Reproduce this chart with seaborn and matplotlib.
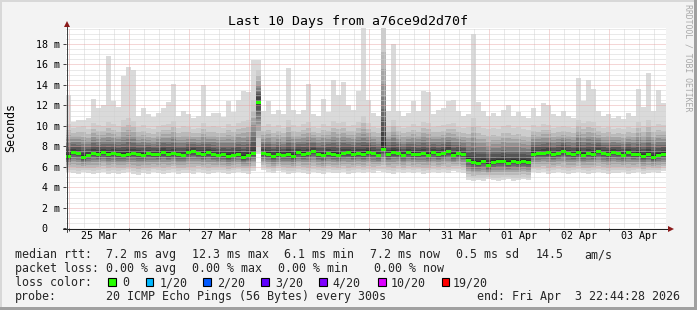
import numpy as np
import pandas as pd
import matplotlib
matplotlib.use("Agg")
import matplotlib.pyplot as plt
import matplotlib.dates as mdates
from matplotlib.ticker import MultipleLocator, FuncFormatter, NullFormatter
from matplotlib.patches import Rectangle
from matplotlib.lines import Line2D
from matplotlib.path import Path
import seaborn as sns
from datetime import datetime, timedelta

# ---------------- data ----------------
TITLE = "Last 10 Days from a76ce9d2d70f"
START = datetime(2026, 3, 24, 22, 44, 28)
BIN_HOURS = 2

# median rtt per 2h bin (ms)
med = [7.0, 7.4, 7.3, 6.9, 7.1, 7.3, 7.2, 7.4, 7.2, 7.3,
       7.2, 7.1, 7.2, 7.3, 7.2, 7.1, 7.3, 7.2, 7.2, 7.4,
       7.2, 7.3, 7.2, 7.1, 7.4, 7.5, 7.3, 7.2, 7.4, 7.2,
       7.1, 7.2, 7.0, 7.1, 7.2, 6.9, 7.1, 7.3, 12.3, 7.3,
       7.2, 7.0, 7.2, 7.1, 7.2, 7.0, 7.4, 7.2, 7.3, 7.5,
       7.2, 7.1, 7.3, 7.2, 7.1, 7.3, 7.4, 7.2, 7.3, 7.2,
       7.4, 7.3, 7.1, 7.7, 7.2, 7.4, 7.3, 7.1, 7.4, 7.2,
       7.2, 7.3, 7.1, 7.4, 7.2, 7.3, 7.5, 7.1, 7.3, 7.2,
       6.6, 6.4, 6.35, 6.5, 6.1, 6.4, 6.5, 6.5, 6.3, 6.5, 6.4, 6.5, 6.4,
       7.2, 7.3, 7.3, 7.4, 7.2, 7.3, 7.5,
       7.3, 7.2, 7.4, 7.1, 7.3, 7.2, 7.5, 7.3, 7.2, 7.4,
       7.3, 7.1, 7.4, 7.2, 7.2, 7.0, 7.2, 6.9, 7.1, 7.2]

# lowest ping per bin (ms)
lo = [5.5, 5.4, 5.3, 5.5, 5.4, 5.3, 5.4, 5.5, 5.3, 5.4,
      5.3, 5.4, 5.5, 5.3, 5.2, 5.4, 5.3, 5.5, 5.4, 5.3,
      5.4, 5.5, 5.3, 5.4, 5.4, 5.3, 5.5, 5.4, 5.3, 5.4,
      5.5, 5.4, 5.3, 5.4, 5.5, 5.4, 5.3, 5.6, 7.3, 5.7,
      5.5, 5.4, 5.6, 5.5, 5.3, 5.4, 5.5, 5.4, 5.3, 5.5,
      5.4, 5.3, 5.5, 5.4, 5.4, 5.5, 5.3, 5.4, 5.5, 5.4,
      5.5, 5.4, 5.6, 5.5, 5.4, 5.3, 5.5, 5.4, 5.5, 5.4,
      5.5, 5.3, 5.4, 5.5, 5.4, 5.5, 5.4, 5.6, 5.5, 5.4,
      4.7, 4.6, 4.7, 4.6, 4.8, 4.7, 4.6, 4.7, 4.8, 4.6, 4.7, 4.8, 4.7,
      5.5, 5.4, 5.5, 5.3, 5.4, 5.5, 5.4,
      5.3, 5.4, 5.5, 5.4, 5.3, 5.4, 5.5, 5.4, 5.3, 5.4,
      5.4, 5.5, 5.3, 5.4, 5.5, 5.3, 5.4, 5.5, 5.4, 5.6]

# upper edge of the dense smoke (second highest ping) per bin (ms)
up = [10.2, 9.8, 9.9, 10.0, 9.7, 10.3, 10.1, 10.0, 10.4, 10.2,
      10.0, 10.6, 10.8, 10.5, 9.9, 10.1, 9.8, 9.7, 10.0, 10.1,
      10.2, 10.5, 9.8, 10.0, 9.9, 9.7, 9.8, 10.3, 9.9, 10.0,
      9.9, 9.8, 10.2, 10.0, 10.3, 10.5, 10.6, 12.5, 15.5, 10.0,
      10.2, 9.9, 10.1, 9.8, 10.6, 10.1, 9.9, 10.2, 10.4, 9.9,
      9.8, 10.2, 10.0, 10.5, 10.3, 10.4, 10.0, 10.1, 10.4, 11.0,
      10.3, 9.9, 9.8, 19.6, 10.0, 10.6, 10.0, 9.8, 9.9, 10.2,
      10.0, 10.4, 10.3, 9.9, 10.0, 10.1, 10.2, 10.3, 9.9, 9.8,
      9.9, 10.8, 10.0, 9.8, 9.7, 9.8, 9.7, 10.0, 10.1, 9.8, 9.9, 9.7, 9.6,
      10.1, 9.9, 10.2, 10.1, 9.8, 9.9, 10.0,
      9.9, 9.8, 10.6, 10.3, 10.5, 10.4, 10.0, 9.8, 9.9, 9.7,
      9.8, 9.7, 9.9, 9.8, 10.4, 10.0, 10.6, 10.0, 10.2, 10.1]

# highest ping per bin (ms)
hi = [13.0, 10.4, 10.6, 10.6, 10.8, 12.6, 11.7, 12.0, 16.8, 12.4,
      11.8, 14.9, 15.8, 15.5, 11.0, 11.7, 11.2, 10.9, 11.3, 11.7,
      12.3, 14.1, 11.0, 11.5, 11.2, 10.8, 11.0, 14.0, 11.0, 11.3,
      11.3, 10.9, 12.4, 11.4, 12.5, 13.4, 13.3, 16.4, 16.4, 11.5,
      12.4, 11.2, 11.6, 11.2, 15.7, 11.6, 11.2, 11.6, 14.1, 11.2,
      11.0, 12.6, 11.4, 14.5, 13.0, 14.3, 12.0, 11.6, 13.4, 19.6,
      12.5, 11.3, 11.0, 19.6, 11.5, 18.0, 11.5, 11.0, 11.3, 12.4,
      11.5, 13.4, 13.3, 11.2, 11.6, 11.7, 12.4, 12.5, 11.5, 11.0,
      11.2, 19.0, 12.3, 11.5, 11.0, 11.3, 11.0, 11.6, 12.0, 11.0, 11.4, 11.0, 10.8,
      11.7, 11.0, 12.2, 12.0, 11.2, 11.0, 11.5,
      11.0, 10.8, 14.7, 12.4, 14.5, 13.6, 11.5, 11.0, 11.2, 10.8,
      11.0, 10.7, 11.3, 11.0, 13.6, 11.8, 15.2, 11.5, 13.5, 12.2]

YLABEL = "Seconds"
WATERMARK = "RRDTOOL / TOBI OETIKER"

legend_line1 = [("median rtt:", 16), ("7.2 ms avg", 107), ("12.3 ms max", 193),
                ("6.1 ms min", 285), ("7.2 ms now", 371), ("0.5 ms sd", 457),
                ("14.5", 536), ("am/s", 585)]
legend_line2 = [("packet loss:", 16), ("0.00 % avg", 107), ("0.00 % max", 193),
                ("0.00 % min", 279), ("0.00 % now", 375)]
loss_labels = ["0", "1/20", "2/20", "3/20", "4/20", "10/20", "19/20"]
loss_colors = ["#26ff00", "#00b8ff", "#0059ff", "#5e00ff", "#7e00ff", "#dd00ff", "#ff0000"]
probe_text = "20 ICMP Echo Pings (56 Bytes) every 300s"
end_text = "end: Fri Apr  3 22:44:28 2026"

# ---------------- style ----------------
sns.set_theme(style="white")
plt.rcParams['font.family'] = ['DejaVu Sans Mono', 'DejaVu Sans']

W, H = 697, 310
BG = "#f3f3f3"
fig = plt.figure(figsize=(W / 100, H / 100), dpi=100, facecolor=BG)


def fx(px):
    return px / W


def fy(py):
    return 1 - py / H


X0, X1 = 66, 666
Y0, Y1 = 228.3, 28.0
YMAX = 19.56
ax = fig.add_axes([fx(X0), fy(Y0), (X1 - X0) / W, (Y0 - Y1) / H])
ax.set_facecolor("white")

med_a = np.array(med)
lo_a = np.array(lo)
up_a = np.array(up)
hi_a = np.array(hi)
n = len(med_a)
edges = mdates.date2num([START + timedelta(hours=BIN_HOURS * i) for i in range(n + 1)])
centers = (edges[:-1] + edges[1:]) / 2


def ext(a):
    return np.append(a, a[-1])


# smoke: outermost layer (min..max ping), then darker inner layers
ax.fill_between(edges, ext(lo_a), ext(hi_a), step="post", color="#dadada", lw=0, zorder=1)
LOWF = [0.15, 0.30, 0.45, 0.57, 0.68, 0.78, 0.86, 0.92, 0.97]
UPF = [1.0, 0.80, 0.66, 0.54, 0.43, 0.33, 0.24, 0.15, 0.07]
GRAYS = [205, 185, 165, 145, 125, 105, 85, 67, 50]
for k, (fa, fb, g) in enumerate(zip(LOWF, UPF, GRAYS)):
    lower = lo_a + (med_a - lo_a) * fa
    upper = med_a + (up_a - med_a) * fb
    ax.fill_between(edges, ext(lower), ext(upper), step="post",
                    color=(g / 255, g / 255, g / 255), lw=0, zorder=1.1 + 0.01 * k)

# median as short loss-coloured bars
rect = Path([(-0.5, -0.3), (0.5, -0.3), (0.5, 0.3), (-0.5, 0.3), (-0.5, -0.3)],
            [Path.MOVETO, Path.LINETO, Path.LINETO, Path.LINETO, Path.CLOSEPOLY])
df = pd.DataFrame({"t": centers, "median": med_a})
sns.scatterplot(data=df, x="t", y="median", marker=rect, s=13, color=loss_colors[0],
                linewidth=0, edgecolor="none", ax=ax, zorder=4, legend=False)

ax.set_xlim(edges[0], edges[-1])
ax.set_ylim(0, YMAX)
ax.set_xlabel("")
ax.set_ylabel("")

# ticks / grid
ax.xaxis.set_major_locator(mdates.DayLocator())
ax.xaxis.set_major_formatter(NullFormatter())
ax.xaxis.set_minor_locator(mdates.HourLocator(byhour=[6, 12, 18]))


def xfmt(v, p):
    if int(round(v * 24)) % 24 == 12:
        return mdates.num2date(v).strftime("%d %b")
    return ""


ax.xaxis.set_minor_formatter(FuncFormatter(xfmt))
ax.yaxis.set_major_locator(MultipleLocator(2))
ax.yaxis.set_minor_locator(MultipleLocator(0.5))
ax.yaxis.set_major_formatter(FuncFormatter(lambda v, p: "0  " if v == 0 else f"{int(round(v))} m"))

ax.tick_params(axis="x", which="major", direction="out", length=2.2, width=0.7,
               color="#404040", bottom=True)
ax.tick_params(axis="x", which="minor", length=0, pad=2.2, labelsize=7.2,
               labelcolor="#000000", bottom=True)
ax.tick_params(axis="y", which="major", direction="out", length=2.2, width=0.7,
               color="#404040", pad=2.0, labelsize=7.2, labelcolor="#000000", left=True)
ax.tick_params(axis="y", which="minor", length=0, left=False)

DOT = (0, (1, 1))
ax.grid(True, which="minor", color="#cfcfcf", linestyle=DOT, linewidth=0.72, alpha=0.9)
ax.grid(True, which="major", color="#e8a4a4", linestyle=DOT, linewidth=0.72, alpha=0.9)
ax.set_axisbelow(False)
for s in ax.spines.values():
    s.set_visible(False)

# axis lines with arrows
fig.add_artist(Line2D([fx(63), fx(670)], [fy(228.5), fy(228.5)], color="#202020", lw=0.72))
fig.add_artist(Line2D([fx(66.5), fx(66.5)], [fy(231.5), fy(24)], color="#404040", lw=0.72))
fig.add_artist(Line2D([fx(671)], [fy(228.5)], marker=">", ms=4.5, color="#8b1a1a",
                      markeredgewidth=0, linestyle="none"))
fig.add_artist(Line2D([fx(66.5)], [fy(23.5)], marker="^", ms=4.5, color="#8b1a1a",
                      markeredgewidth=0, linestyle="none"))

# texts
fig.text(fx(347.5), fy(24.5), TITLE, ha="center", va="baseline", fontsize=9.5, color="#000000")
fig.text(fx(10.5), fy(127.5), YLABEL, rotation=90, ha="center", va="center", fontsize=8.4,
         color="#000000")
fig.text(fx(688), fy(4), WATERMARK, rotation=270, ha="center", va="top", fontsize=5.9,
         color="#a8a8a8")

LFS = 8.4
for txt, x in legend_line1:
    fig.text(fx(x - 0.8), fy(258.3), txt, ha="left", va="baseline", fontsize=LFS)
for txt, x in legend_line2:
    fig.text(fx(x - 0.8), fy(272.3), txt, ha="left", va="baseline", fontsize=LFS)
fig.text(fx(16 - 0.8), fy(286.3), "loss color:", ha="left", va="baseline", fontsize=LFS)
sq_x = [108.3, 145.7, 203.3, 261, 319, 378.3, 441.7]
lab_x = [123.3, 160, 218.3, 276, 333.3, 391.7, 453.3]
for c, lab, sx, lx in zip(loss_colors, loss_labels, sq_x, lab_x):
    fig.add_artist(Rectangle((fx(sx), fy(286)), 7.5 / W, 7.7 / H, transform=fig.transFigure,
                             facecolor=c, edgecolor="#000000", lw=0.8))
    fig.text(fx(lx - 0.8), fy(286.3), lab, ha="left", va="baseline", fontsize=LFS)
fig.text(fx(16 - 0.8), fy(300.3), "probe:", ha="left", va="baseline", fontsize=LFS)
fig.text(fx(107.3 - 0.8), fy(300.3), probe_text, ha="left", va="baseline", fontsize=LFS)
fig.text(fx(478 - 0.8), fy(300.3), end_text, ha="left", va="baseline", fontsize=LFS)

# frame of the canvas
fig.add_artist(Rectangle((0, 0), 2 / W, 1, transform=fig.transFigure, facecolor="#d8d8d8", lw=0))
fig.add_artist(Rectangle((0, 1 - 2 / H), 1, 2 / H, transform=fig.transFigure, facecolor="#d8d8d8", lw=0))
fig.add_artist(Rectangle((1 - 3 / W, 0), 3 / W, 1, transform=fig.transFigure, facecolor="#a0a0a0", lw=0))
fig.add_artist(Rectangle((0, 0), 1, 3 / H, transform=fig.transFigure, facecolor="#a0a0a0", lw=0))

fig.savefig("out.png", dpi=100, facecolor=BG)
